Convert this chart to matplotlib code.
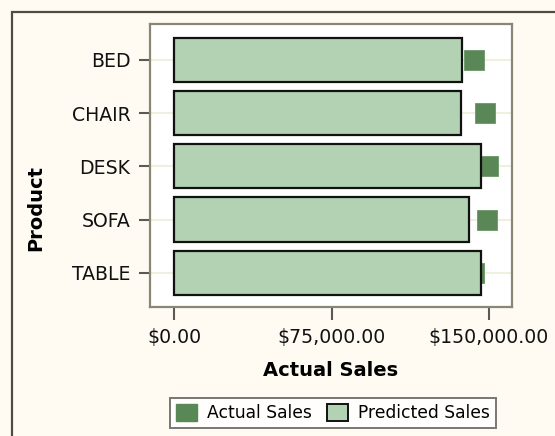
import matplotlib

matplotlib.use("Agg")
import matplotlib.pyplot as plt
from matplotlib.patches import Patch, Rectangle
from matplotlib.ticker import FuncFormatter

products = ["BED", "CHAIR", "DESK", "SOFA", "TABLE"]
predicted = [137300, 136600, 146100, 140500, 146200]
actual = [142800, 148100, 149400, 148900, 142900]
xticks = [0, 75000, 150000]

BAR = "#b3d2b3"
MARK = "#5a8756"
FRAME = "#8a8676"
BG = "#fffbf3"


def main():
    fig = plt.figure(figsize=(5.55, 4.36), dpi=100, facecolor=BG)
    ax = fig.add_axes([150 / 555, 1 - 307 / 436, 362 / 555, 283 / 436])
    ax.set_facecolor("white")

    y = list(range(len(products)))
    for yi in y:
        ax.axhline(yi, color="#f0efe0", lw=1.5, zorder=0)
    # actual sales: square markers, drawn under the predicted bars
    ax.plot(actual, y, ls="none", marker="s", ms=15, color=MARK,
            mec="#6a9666", mew=0.6, zorder=1)
    ax.barh(y, predicted, height=0.83, color=BAR, edgecolor="#111111",
            linewidth=1.6, zorder=2)

    ax.set_xlim(-11600, 161000)
    ax.set_ylim(4.64, -0.67)
    ax.set_yticks(y)
    ax.set_yticklabels(products)
    ax.set_xticks(xticks)
    ax.xaxis.set_major_formatter(FuncFormatter(lambda v, p: f"${v:,.2f}"))
    ax.tick_params(axis="x", length=9, width=1.5, color="#5a5a52", pad=6,
                   labelsize=13.6, labelcolor="#111111")
    ax.tick_params(axis="y", length=8, width=1.5, color="#5a5a52", pad=6,
                   labelsize=13.6, labelcolor="#111111")
    for sp in ax.spines.values():
        sp.set_color(FRAME)
        sp.set_linewidth(1.6)

    ax.set_xlabel("Actual Sales", fontsize=14, fontweight="bold", labelpad=10)
    fig.text(36 / 555, 1 - 208 / 436, "Product", rotation=90, fontsize=14,
             fontweight="bold", ha="center", va="center")

    handles = [
        Patch(facecolor=MARK, edgecolor=MARK, label="Actual Sales"),
        Patch(facecolor=BAR, edgecolor="#111111", linewidth=1.4,
              label="Predicted Sales"),
    ]
    leg = fig.legend(handles=handles, loc="center",
                     bbox_to_anchor=(333 / 555, 1 - 413 / 436), ncol=2,
                     fontsize=12.3, frameon=True, fancybox=False,
                     handlelength=1.2, handleheight=1.2, handletextpad=0.6,
                     columnspacing=0.9, borderpad=0.35)
    leg.get_frame().set_edgecolor("#555550")
    leg.get_frame().set_linewidth(1.4)
    leg.get_frame().set_facecolor("white")

    # outer border of the graph area
    fig.patches.append(Rectangle((12 / 555, -0.1), 1.2, 1 - 12 / 436 + 0.1,
                                 transform=fig.transFigure, fill=False,
                                 edgecolor="#4e4b43", linewidth=1.6))

    fig.savefig("out.png", dpi=100, facecolor=BG)


if __name__ == "__main__":
    main()
